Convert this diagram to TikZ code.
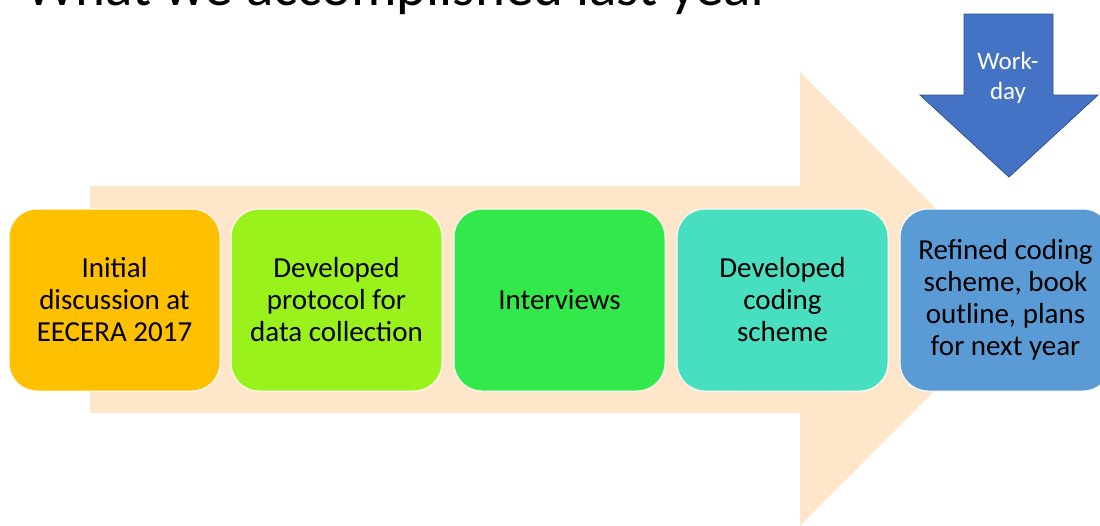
\documentclass[tikz,border=0pt]{standalone}
\usepackage{fontspec}
\setmainfont{Carlito}
\definecolor{arrowbg}{HTML}{FEE6CB}
\definecolor{cOne}{HTML}{FFC000}
\definecolor{cTwo}{HTML}{99F21C}
\definecolor{cThree}{HTML}{33E84A}
\definecolor{cFour}{HTML}{48DFC0}
\definecolor{cFive}{HTML}{5B9BD5}
\definecolor{dArrow}{HTML}{4472C4}
\definecolor{dArrowEdge}{HTML}{2F528F}
\tikzset{
  stagebox/.style={draw=white, line width=1pt, rounded corners=28pt,
    minimum width=211pt, minimum height=182pt, inner sep=0pt,
    align=center, text=black, font=\fontsize{29}{32}\selectfont},
}
\begin{document}
\begin{tikzpicture}[x=1pt,y=-1pt]
\useasboundingbox (0,0) rectangle (1100,525);
\begin{scope}
\clip (0,0) rectangle (1100,525);
% title
\node[anchor=base west, inner sep=0pt, font=\fontsize{57}{60}\selectfont] (title) at (25,5) {What we accomplished last year};
% big background arrow
\fill[arrowbg] (90,186) -- (800,186) -- (800,72) -- (1026,299) -- (800,526) -- (800,413) -- (90,413) -- cycle;
% stages
\node[stagebox, fill=cOne]   (s1) at (114.5,300) {Initial\\discussion at\\EECERA 2017};
\node[stagebox, fill=cTwo]   (s2) at (336.5,300) {Developed\\protocol for\\data collection};
\node[stagebox, fill=cThree] (s3) at (559.5,300) {Interviews};
\node[stagebox, fill=cFour]  (s4) at (782.5,300) {Developed\\coding\\scheme};
\node[stagebox, fill=cFive]  (s5) at (1005.5,300) {Refined coding\\scheme, book\\outline, plans\\for next year};
% down arrow
\filldraw[fill=dArrow, draw=dArrowEdge, line width=0.8pt] (964,14) -- (1053,14) -- (1053,95) -- (1098,95) -- (1009,177) -- (920,95) -- (964,95) -- cycle;
\node[align=center, text=white, inner sep=0pt, font=\fontsize{25}{30}\selectfont] (wd) at (1008,78) {Work-\\day};
\end{scope}
\end{tikzpicture}
\end{document}
